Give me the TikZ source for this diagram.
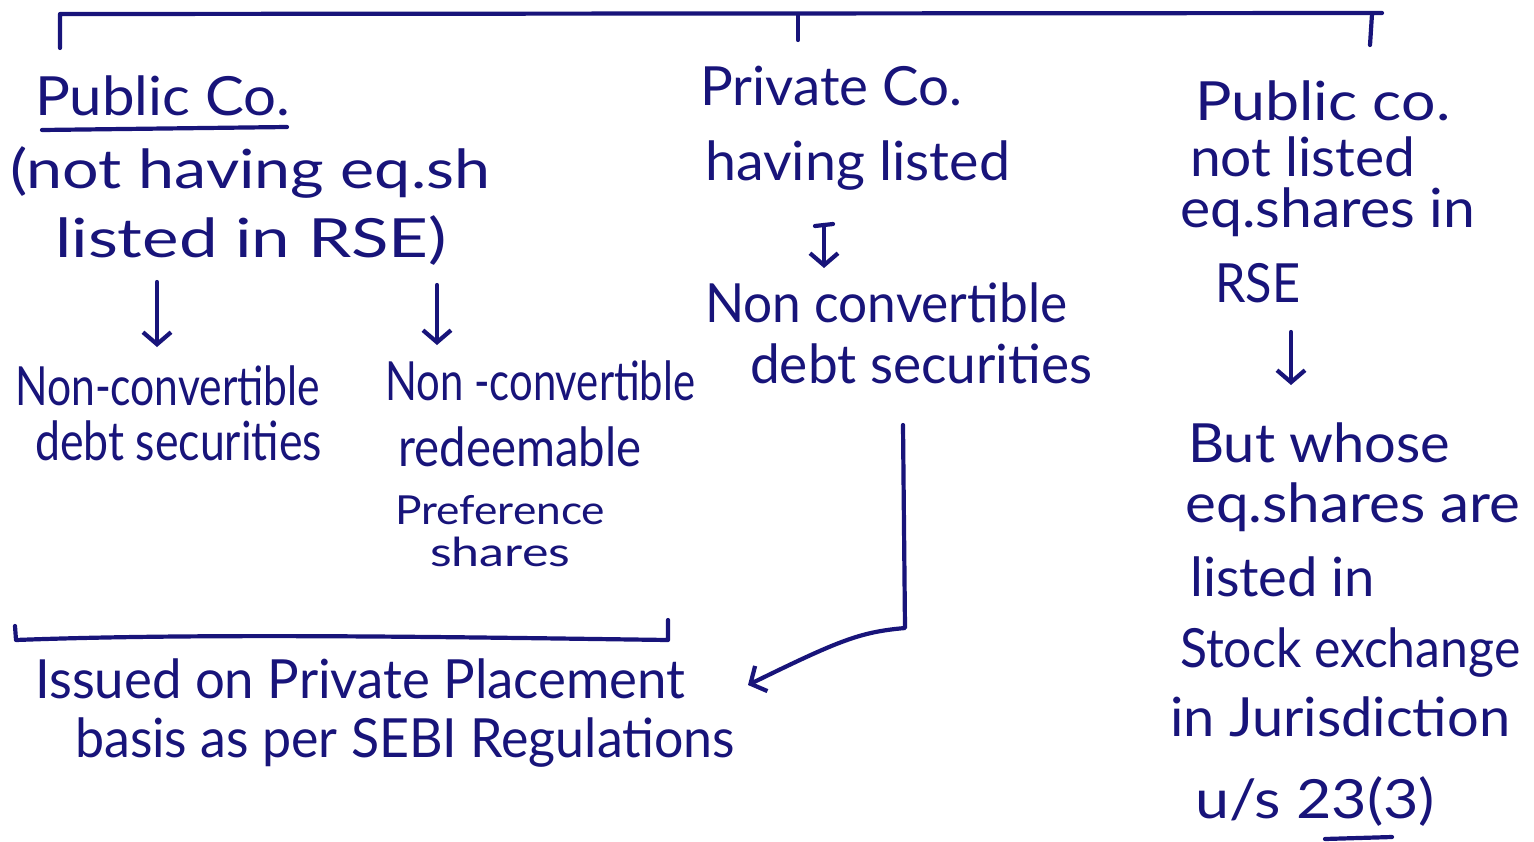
\documentclass[tikz,border=0pt]{standalone}
\usepackage{fontspec}
\setmainfont{Lato}
\usetikzlibrary{arrows.meta}
\definecolor{ink}{RGB}{24,20,122}
% set a line of text to a given width (in pt) without changing its height
\newcommand\fitw[2]{\resizebox{#1pt}{\height}{#2}}
\begin{document}
\begin{tikzpicture}[x=1pt,y=-1pt,
  pen/.style={draw=ink,line width=4.2pt,line cap=round,line join=round},
  word/.style={anchor=base west,inner sep=0pt,text=ink,font=\fontsize{54}{60}\selectfont},
  smallword/.style={word,font=\fontsize{40}{46}\selectfont},
  tip/.style={-{Straight Barb[length=12pt,width=28pt,line width=4.2pt]}}]
\useasboundingbox (0,0) rectangle (1534,841);
\fill[white] (0,0) rectangle (1534,841);

% top bracket over the three cases
\draw[pen] (60,48) -- (60,14) -- (1382,13);
\draw[pen] (798,14) -- (798,40);
\draw[pen] (1372,14) -- (1370,45);

% left case
\node[word] (a1) at (35,115) {\fitw{255}{Public Co.}};
\draw[pen] (42,130) -- (287,127);
\node[word] (a2) at (10,188) {\fitw{480}{(not having eq.sh}};
\node[word] (a3) at (55,257) {\fitw{392}{listed in RSE)}};
\coordinate (aL) at (157,282);
\coordinate (bL) at (157,347);
\coordinate (aR) at (437,285);
\coordinate (bR) at (437,345);
\draw[pen,tip] (aL) -- (bL);
\draw[pen,tip] (aR) -- (bR);
\node[word] (b1) at (15,405) {\fitw{305}{Non-convertible}};
\node[word] (b2) at (35,460) {\fitw{287}{debt securities}};
\node[word] (c1) at (385,400) {\fitw{310}{Non -convertible}};
\node[word] (c2) at (398,466) {\fitw{243}{redeemable}};
\node[smallword] (c3) at (395,524) {\fitw{210}{Preference}};
\node[smallword] (c4) at (430,566) {\fitw{140}{shares}};

% bracket under the two left instruments
\draw[pen] (15,626) -- (16,640) .. controls (200,633) and (450,637) .. (668,640) -- (668,620);
\node[word] (d1) at (35,698) {\fitw{650}{Issued on Private Placement}};
\node[word] (d2) at (75,757) {\fitw{660}{basis as per SEBI Regulations}};

% middle case
\node[word] (m1) at (700,105) {\fitw{262}{Private Co.}};
\node[word] (m2) at (705,180) {\fitw{305}{having listed}};
\coordinate (mA) at (824,225);
\coordinate (mB) at (824,268);
\draw[pen,tip] (mA) -- (mB);
\draw[pen] (815,226) -- (833,224);
\node[word] (m3) at (705,322) {\fitw{362}{Non convertible}};
\node[word] (m4) at (750,383) {\fitw{342}{debt securities}};
\coordinate (j0) at (903,425);
\coordinate (j1) at (905,628);
\coordinate (jt) at (748,685);
\draw[pen,tip] (j0) -- (j1) .. controls (860,632) and (840,640) .. (jt);

% right case
\node[word] (r1) at (1195,120) {\fitw{255}{Public co.}};
\node[word] (r2) at (1190,176) {\fitw{225}{not listed}};
\node[word] (r3) at (1180,227) {\fitw{295}{eq.shares in}};
\node[word] (r4) at (1215,302) {\fitw{85}{RSE}};
\coordinate (rA) at (1291,332);
\coordinate (rB) at (1291,385);
\draw[pen,tip] (rA) -- (rB);
\node[word] (r5) at (1188,462) {\fitw{262}{But whose}};
\node[word] (r6) at (1185,522) {\fitw{335}{eq.shares are}};
\node[word] (r7) at (1190,596) {\fitw{185}{listed in}};
\node[word] (r8) at (1180,667) {\fitw{340}{Stock exchange}};
\node[word] (r9) at (1170,736) {\fitw{340}{in Jurisdiction}};
\node[word] (r10) at (1195,818) {\fitw{240}{u/s 23(3)}};
\draw[pen] (1325,839) -- (1392,837);
\end{tikzpicture}
\end{document}
